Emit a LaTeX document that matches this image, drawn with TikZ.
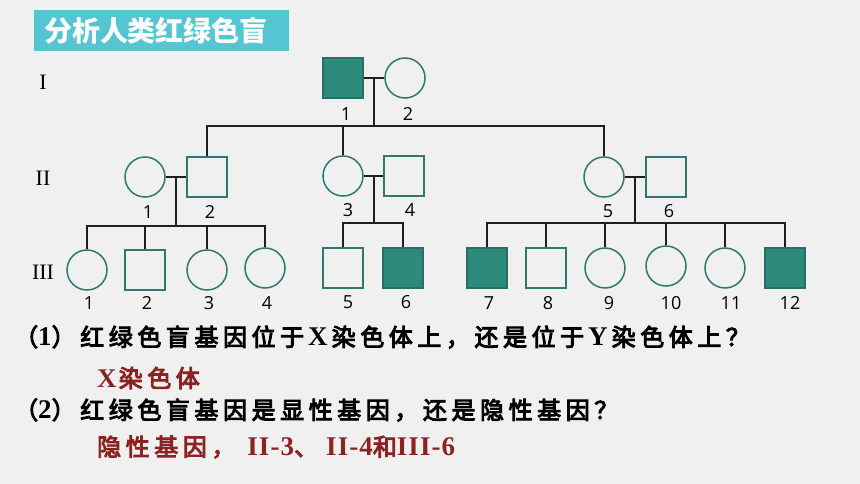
\documentclass[tikz,border=0pt]{standalone}
\usepackage{fontspec}
\setmainfont{Liberation Serif}
\newfontfamily\cjk{Noto Sans CJK SC}
\newfontfamily\cjkq{Noto Sans CJK SC}[LetterSpace=19, FakeBold=4]
\newfontfamily\lat{Liberation Serif}[LetterSpace=4]
\newfontfamily\genfont{Liberation Serif}
\newfontfamily\numfont{Open Sans}
\usetikzlibrary{calc}

\definecolor{pedLine}{RGB}{46,120,112}
\definecolor{pedFill}{RGB}{46,139,124}
\definecolor{pedDark}{RGB}{43,110,101}
\definecolor{titleBg}{RGB}{86,197,211}
\definecolor{answer}{RGB}{140,35,35}
\definecolor{slideBg}{RGB}{240,240,240}

\newcommand{\latin}[1]{{\lat\bfseries\fontsize{27}{27}\selectfont #1}}

\begin{document}
\begin{tikzpicture}[x=1pt, y=-1pt,
	male/.style={rectangle, draw=pedLine, line width=1.5pt, minimum size=40pt, inner sep=0pt},
	female/.style={circle, draw=pedLine, line width=1.5pt, minimum size=40pt, inner sep=0pt},
	ill/.style={fill=pedFill, draw=pedDark},
	num/.style={font=\numfont\fontsize{18}{18}\selectfont, inner sep=0pt},
	gen/.style={font=\genfont\fontsize{22}{22}\selectfont, inner sep=0pt},
	link/.style={line width=2pt, black!88},
	question/.style={anchor=west, inner sep=0pt, font=\cjkq\fontsize{24}{24}\selectfont},
	reply/.style={question, text=answer}
	]
	
	\fill[slideBg] (0,0) rectangle (860,484);
	\useasboundingbox (0,0) rectangle (860,484);
	
	% Title
	\fill[titleBg] (34,10) rectangle (289,51);
	\node[text=white, inner sep=0pt, font=\cjk\bfseries\fontsize{28}{28}\selectfont] (title) at (156,31) {分析人类红绿色盲};
	
	% Generations
	\node[gen] (g1) at (43,82) {I};
	\node[gen] (g2) at (43,178) {II};
	\node[gen] (g3) at (43,272) {III};
	
	% Generation I
	\node[male, ill] (i1) at (343,78) {};
	\node[female] (i2) at (405,78) {};
	
	% Generation II
	\node[female] (ii1) at (145,177) {};
	\node[male] (ii2) at (207,177) {};
	\node[female] (ii3) at (343,176) {};
	\node[male] (ii4) at (404,176) {};
	\node[female] (ii5) at (604,177) {};
	\node[male] (ii6) at (666,177) {};
	
	% Generation III
	\node[female] (iii1) at (87,270) {};
	\node[male] (iii2) at (145,270) {};
	\node[female] (iii3) at (207,270) {};
	\node[female] (iii4) at (265,268) {};
	\node[male] (iii5) at (343,268) {};
	\node[male, ill] (iii6) at (403,268) {};
	\node[male, ill] (iii7) at (487,268) {};
	\node[male] (iii8) at (546,268) {};
	\node[female] (iii9) at (605,268) {};
	\node[female] (iii10) at (666,266) {};
	\node[female] (iii11) at (725,268) {};
	\node[male, ill] (iii12) at (785,268) {};
	
	% Numbers
	\node[num] (n-i1) at (346,114) {1};
	\node[num] (n-i2) at (408,114) {2};
	\node[num] (n-ii1) at (148,212) {1};
	\node[num] (n-ii2) at (210,212) {2};
	\node[num] (n-ii3) at (348,210) {3};
	\node[num] (n-ii4) at (410,210) {4};
	\node[num] (n-ii5) at (608,211) {5};
	\node[num] (n-ii6) at (669,211) {6};
	\node[num] (n-iii1) at (89,303) {1};
	\node[num] (n-iii2) at (147,303) {2};
	\node[num] (n-iii3) at (209,303) {3};
	\node[num] (n-iii4) at (267,303) {4};
	\node[num] (n-iii5) at (348,302) {5};
	\node[num] (n-iii6) at (406,302) {6};
	\node[num] (n-iii7) at (489,303) {7};
	\node[num] (n-iii8) at (548,303) {8};
	\node[num] (n-iii9) at (609,303) {9};
	\node[num] (n-iii10) at (671,303) {10};
	\node[num] (n-iii11) at (731,303) {11};
	\node[num] (n-iii12) at (790,303) {12};
	
	% I-1 x I-2
	\draw[link] (i1.east) -- (i2.west);
	\coordinate (k1) at ($(i1.east)!.5!(i2.west)$);
	\coordinate (s1) at ($(k1) + (0,48)$);
	\draw[link] (k1) -- (s1);
	\draw[link] (ii2.north) |- (ii5.north |- s1) -- (ii5.north);
	\draw[link] (ii3.north) -- (ii3.north |- s1);
	
	% II-1 x II-2
	\draw[link] (ii1.east) -- (ii2.west);
	\coordinate (k2) at ($(ii1.east)!.5!(ii2.west)$);
	\coordinate (s2) at ($(k2) + (0,49)$);
	\draw[link] (k2) -- (s2);
	\draw[link] (iii1.north) |- (iii4.north |- s2) -- (iii4.north);
	\draw[link] (iii2.north) -- (iii2.north |- s2);
	\draw[link] (iii3.north) -- (iii3.north |- s2);
	
	% II-3 x II-4
	\draw[link] (ii3.east) -- (ii4.west);
	\coordinate (k3) at ($(ii3.east)!.5!(ii4.west)$);
	\coordinate (s3) at ($(k3) + (0,47)$);
	\draw[link] (k3) -- (s3);
	\draw[link] (iii5.north) |- (iii6.north |- s3) -- (iii6.north);
	
	% II-5 x II-6
	\draw[link] (ii5.east) -- (ii6.west);
	\coordinate (k4) at ($(ii5.east)!.5!(ii6.west)$);
	\coordinate (s4) at ($(k4) + (0,46)$);
	\draw[link] (k4) -- (s4);
	\draw[link] (iii7.north) |- (iii12.north |- s4) -- (iii12.north);
	\draw[link] (iii8.north) -- (iii8.north |- s4);
	\draw[link] (iii9.north) -- (iii9.north |- s4);
	\draw[link] (iii10.north) -- (iii10.north |- s4);
	\draw[link] (iii11.north) -- (iii11.north |- s4);
	
	% Questions
	\node[question] (q1) at (14,337) {（\latin{1}）红绿色盲基因位于\hspace{4pt}\latin{X}\hspace{4pt}染色体上，还是位于\hspace{4pt}\latin{Y}\hspace{4pt}染色体上？};
	\node[reply] (a1) at (97,378) {\latin{X}\hspace{2pt}染色体};
	\node[question] (q2) at (14,410) {（\latin{2}）红绿色盲基因是显性基因，还是隐性基因？};
	\node[reply] (a2) at (97,447) {隐性基因，\hspace{12pt}\latin{II-3}、\hspace{8pt}\latin{II-4}和\latin{III-6}};
\end{tikzpicture}
\end{document}
